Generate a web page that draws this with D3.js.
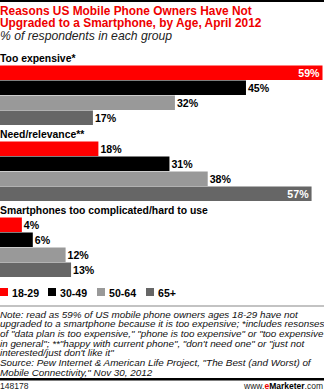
<!DOCTYPE html>
<html><head><meta charset="utf-8">
<script src="https://cdn.jsdelivr.net/npm/d3@7"></script>
<style>
html,body{margin:0;padding:0;background:#fff;}
svg{display:block;font-family:"Liberation Sans",Arial,sans-serif;}
</style></head>
<body>
<script>
const categories = ["Too expensive*", "Need/relevance**", "Smartphones too complicated/hard to use"];
const seriesNames = ["18-29", "30-49", "50-64", "65+"];
const values18_29 = [59, 18, 4];
const values30_49 = [45, 31, 6];
const values50_64 = [32, 38, 12];
const values65plus = [17, 57, 13];
const colors = ["#ff0000", "#000000", "#999999", "#666666"];
const titleLines = ["Reasons US Mobile Phone Owners Have Not", "Upgraded to a Smartphone, by Age, April 2012"];
const noteLines = [
  "Note: read as 59% of US mobile phone owners ages 18-29 have not",
  "upgraded to a smartphone because it is too expensive; *includes resonses",
  "of \"data plan is too expensive,\" \"phone is too expensive\" or \"too expensive",
  "in general\"; **\"happy with current phone\", \"don't need one\" or \"just not",
  "interested/just don't like it\"",
  "Source: Pew Internet & American Life Project, \"The Best (and Worst) of",
  "Mobile Connectivity,\" Nov 30, 2012"
];

const W = 324, H = 392;
const svg = d3.select("body").append("svg").attr("width", W).attr("height", H);

svg.append("rect").attr("x",0).attr("y",0).attr("width",W).attr("height",2).attr("fill","#000");

titleLines.forEach((t, i) => {
  svg.append("text").attr("x",0).attr("y",14.5 + i*12.5).attr("font-weight","bold").attr("font-size",11.9)
    .attr("fill","#ee0000").text(t);
});
svg.append("text").attr("x",0).attr("y",39.5).attr("font-style","italic").attr("font-size",12.2).attr("fill","#222")
  .text("% of respondents in each group");

const allSeries = [values18_29, values30_49, values50_64, values65plus];
const x = d3.scaleLinear().domain([0, 59]).range([0, 322.5]);
const groupY = d3.scaleBand().domain(categories).range([65.5, 65.5 + 76*3]);
const barY = d3.scaleBand().domain(seriesNames).range([0, 60]);

categories.forEach((cat, ci) => {
  const g0 = groupY(cat);
  svg.append("text").attr("x",0).attr("y",g0-4).attr("font-weight","bold").attr("font-size",10.4).attr("fill","#000").text(cat);
  seriesNames.forEach((s, si) => {
    const v = allSeries[si][ci];
    const y = g0 + barY(s);
    const w = x(v);
    svg.append("rect").attr("x",0).attr("y",y).attr("width",w).attr("height",barY.bandwidth()-0.5)
      .attr("fill",colors[si]);
    const inside = w > 290;
    svg.append("text")
      .attr("x", inside ? w-3 : w+2)
      .attr("y", y+11)
      .attr("text-anchor", inside ? "end" : "start")
      .attr("font-weight","bold").attr("font-size",10.6)
      .attr("fill", inside ? "#fff" : "#000")
      .text(v + "%");
  });
});

const legX = [0, 48, 97, 146];
seriesNames.forEach((s, si) => {
  svg.append("rect").attr("x",legX[si]).attr("y",288).attr("width",8).attr("height",8).attr("fill",colors[si]);
  svg.append("text").attr("x",legX[si]+12).attr("y",297).attr("font-weight","bold").attr("font-size",10.6).attr("fill","#000").text(s);
});

svg.append("rect").attr("x",0).attr("y",305.5).attr("width",W).attr("height",1).attr("fill","#888");

noteLines.forEach((l, i) => {
  svg.append("text").attr("x",0).attr("y",317.5 + i*9.7).attr("font-style","italic").attr("font-size",9.85)
    .attr("fill","#111").text(l);
});

svg.append("rect").attr("x",0).attr("y",378).attr("width",W).attr("height",2.5).attr("fill","#000");
svg.append("text").attr("x",0).attr("y",389).attr("font-size",8.5).attr("fill","#222").text("148178");
const em = svg.append("text").attr("x",323).attr("y",389).attr("text-anchor","end").attr("font-size",8.5).attr("fill","#222");
em.append("tspan").text("www.");
em.append("tspan").attr("fill","#ee0000").attr("font-weight","bold").text("e");
em.append("tspan").attr("font-weight","bold").attr("fill","#000").text("Marketer");
em.append("tspan").text(".com");
</script>
</body></html>
